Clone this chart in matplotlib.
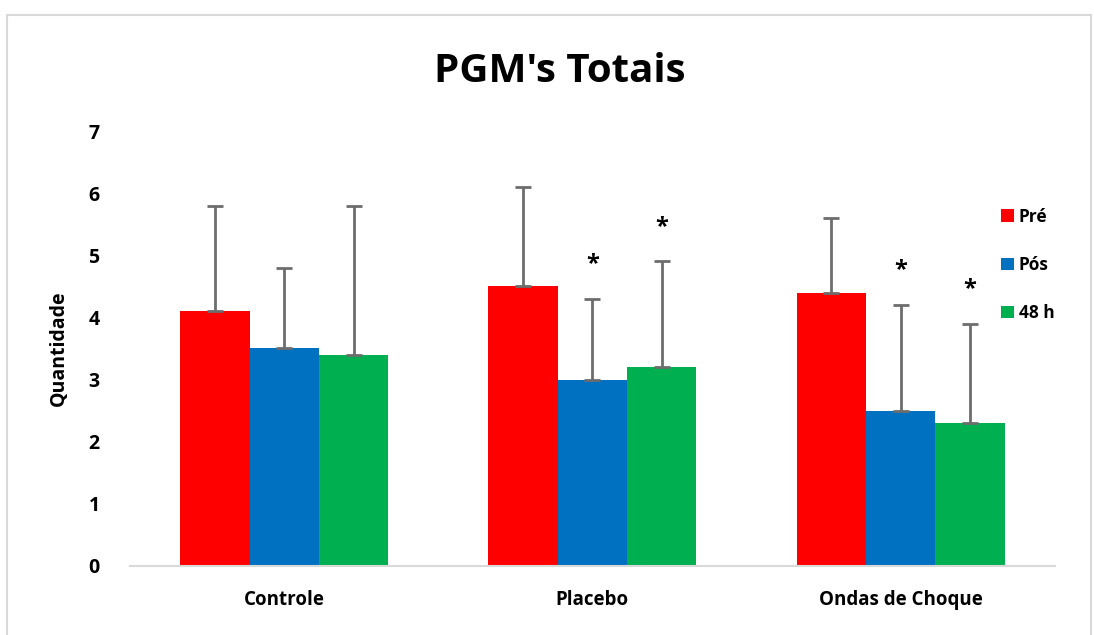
import matplotlib.pyplot as plt
import numpy as np
from matplotlib.patches import Rectangle

plt.rcParams['font.family'] = ['Open Sans', 'DejaVu Sans']

grupos = ['Controle', 'Placebo', 'Ondas de Choque']
momentos = ['Pré', 'Pós', '48 h']
cores = ['#ff0000', '#0070c0', '#00b050']

medias = {
    'Pré': [4.1, 4.5, 4.4],
    'Pós': [3.5, 3.0, 2.5],
    '48 h': [3.4, 3.2, 2.3],
}
desvios = {
    'Pré': [1.7, 1.6, 1.2],
    'Pós': [1.3, 1.3, 1.7],
    '48 h': [2.4, 1.7, 1.6],
}
# asterisco = diferença significativa
signif = {
    'Pré': [False, False, False],
    'Pós': [False, True, True],
    '48 h': [False, True, True],
}

fig = plt.figure(figsize=(10.94, 6.35), dpi=100)
fig.patches.append(Rectangle((0.0065, -0.01), 0.991, 0.986, transform=fig.transFigure,
                             fill=False, edgecolor='#d9d9d9', linewidth=1.5))
ax = fig.add_axes([0.119, 0.1087, 0.845, 0.685])

x = np.arange(len(grupos))
w = 0.225
for i, m in enumerate(momentos):
    pos = x + (i - 1) * w
    ax.bar(pos, medias[m], width=w, color=cores[i], label=m, zorder=2)
    ax.errorbar(pos, medias[m], yerr=[np.zeros(3), desvios[m]], fmt='none',
                ecolor='#6d6d6d', elinewidth=2, capsize=6, capthick=2, zorder=3)
    for j in range(len(grupos)):
        if signif[m][j]:
            ax.annotate('*', (pos[j], medias[m][j] + desvios[m][j]),
                        xytext=(0, 25), textcoords='offset points',
                        ha='center', va='center', fontsize=17, fontweight='bold')

ax.set_xlim(-0.5, 2.5)
ax.set_ylim(0, 7)
ax.set_yticks(range(8))
ax.set_xticks(x)
ax.set_xticklabels(grupos, fontsize=13.5, fontweight='bold')
for lb in ax.get_yticklabels():
    lb.set_fontsize(14)
    lb.set_fontweight('bold')
ax.tick_params(axis='both', length=0)
ax.tick_params(axis='x', pad=17)
ax.tick_params(axis='y', pad=22)
for s in ['top', 'right', 'left']:
    ax.spines[s].set_visible(False)
ax.spines['bottom'].set_color('#d9d9d9')
ax.spines['bottom'].set_linewidth(1.5)

ax.set_ylabel('Quantidade', fontsize=14, fontweight='bold', labelpad=14)
fig.text(0.512, 0.888, "PGM's Totais", ha='center', va='center',
         fontsize=29, fontweight='bold')

leg = ax.legend(loc='upper left', bbox_to_anchor=(0.935, 0.84), frameon=False,
                fontsize=12.5, handlelength=0.7, handleheight=0.7,
                handletextpad=0.3, labelspacing=1.75, borderaxespad=0)
for t in leg.get_texts():
    t.set_fontweight('bold')

fig.savefig('out.png', dpi=100)
